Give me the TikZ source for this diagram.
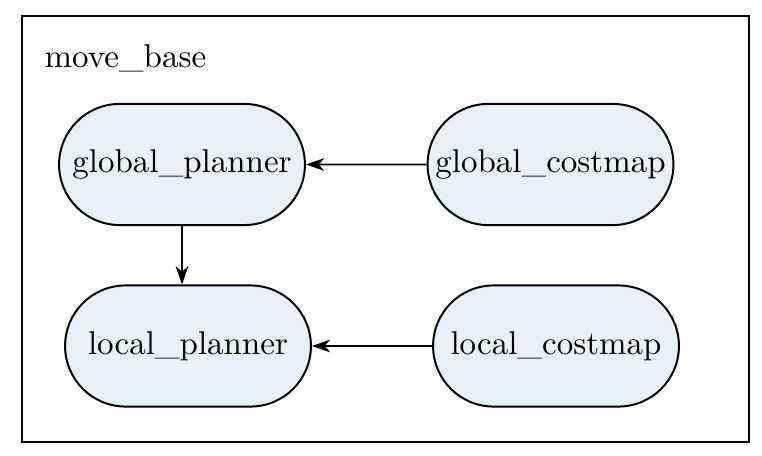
\documentclass[tikz,border=0pt]{standalone}
\usepackage{tikz}
\usetikzlibrary{shapes.misc}
\usetikzlibrary{arrows.meta}
\usepackage{xcolor}

\definecolor{nodefill}{RGB}{232,241,250}

\begin{document}
\begin{tikzpicture}[x=0.30303pt, y=0.30303pt,
  module/.style={draw, line width=0.6pt, fill=nodefill, rounded rectangle,
    minimum width=74.5pt, minimum height=36.7pt, inner sep=0pt},
  link/.style={-{Stealth[length=5.5pt, width=3.8pt, inset=1.6pt]}, line width=0.6pt}]

\useasboundingbox (0,0) rectangle (762,455);

\draw[line width=0.6pt] (22,13) rectangle (749,439);
\node[anchor=west] (title) at (33,397) {move\_base};

\node[module] (gplan) at (182,290.5) {global\_planner};
\node[module] (gcost) at (550.5,290.5) {global\_costmap};
\node[module] (lplan) at (188,109) {local\_planner};
\node[module] (lcost) at (556,109) {local\_costmap};


\draw[link] (gcost) -- (gplan);
\draw[link] (lcost) -- (lplan);
\draw[link] (gplan.south) -- (gplan.south |- lplan.north);

\end{tikzpicture}
\end{document}
